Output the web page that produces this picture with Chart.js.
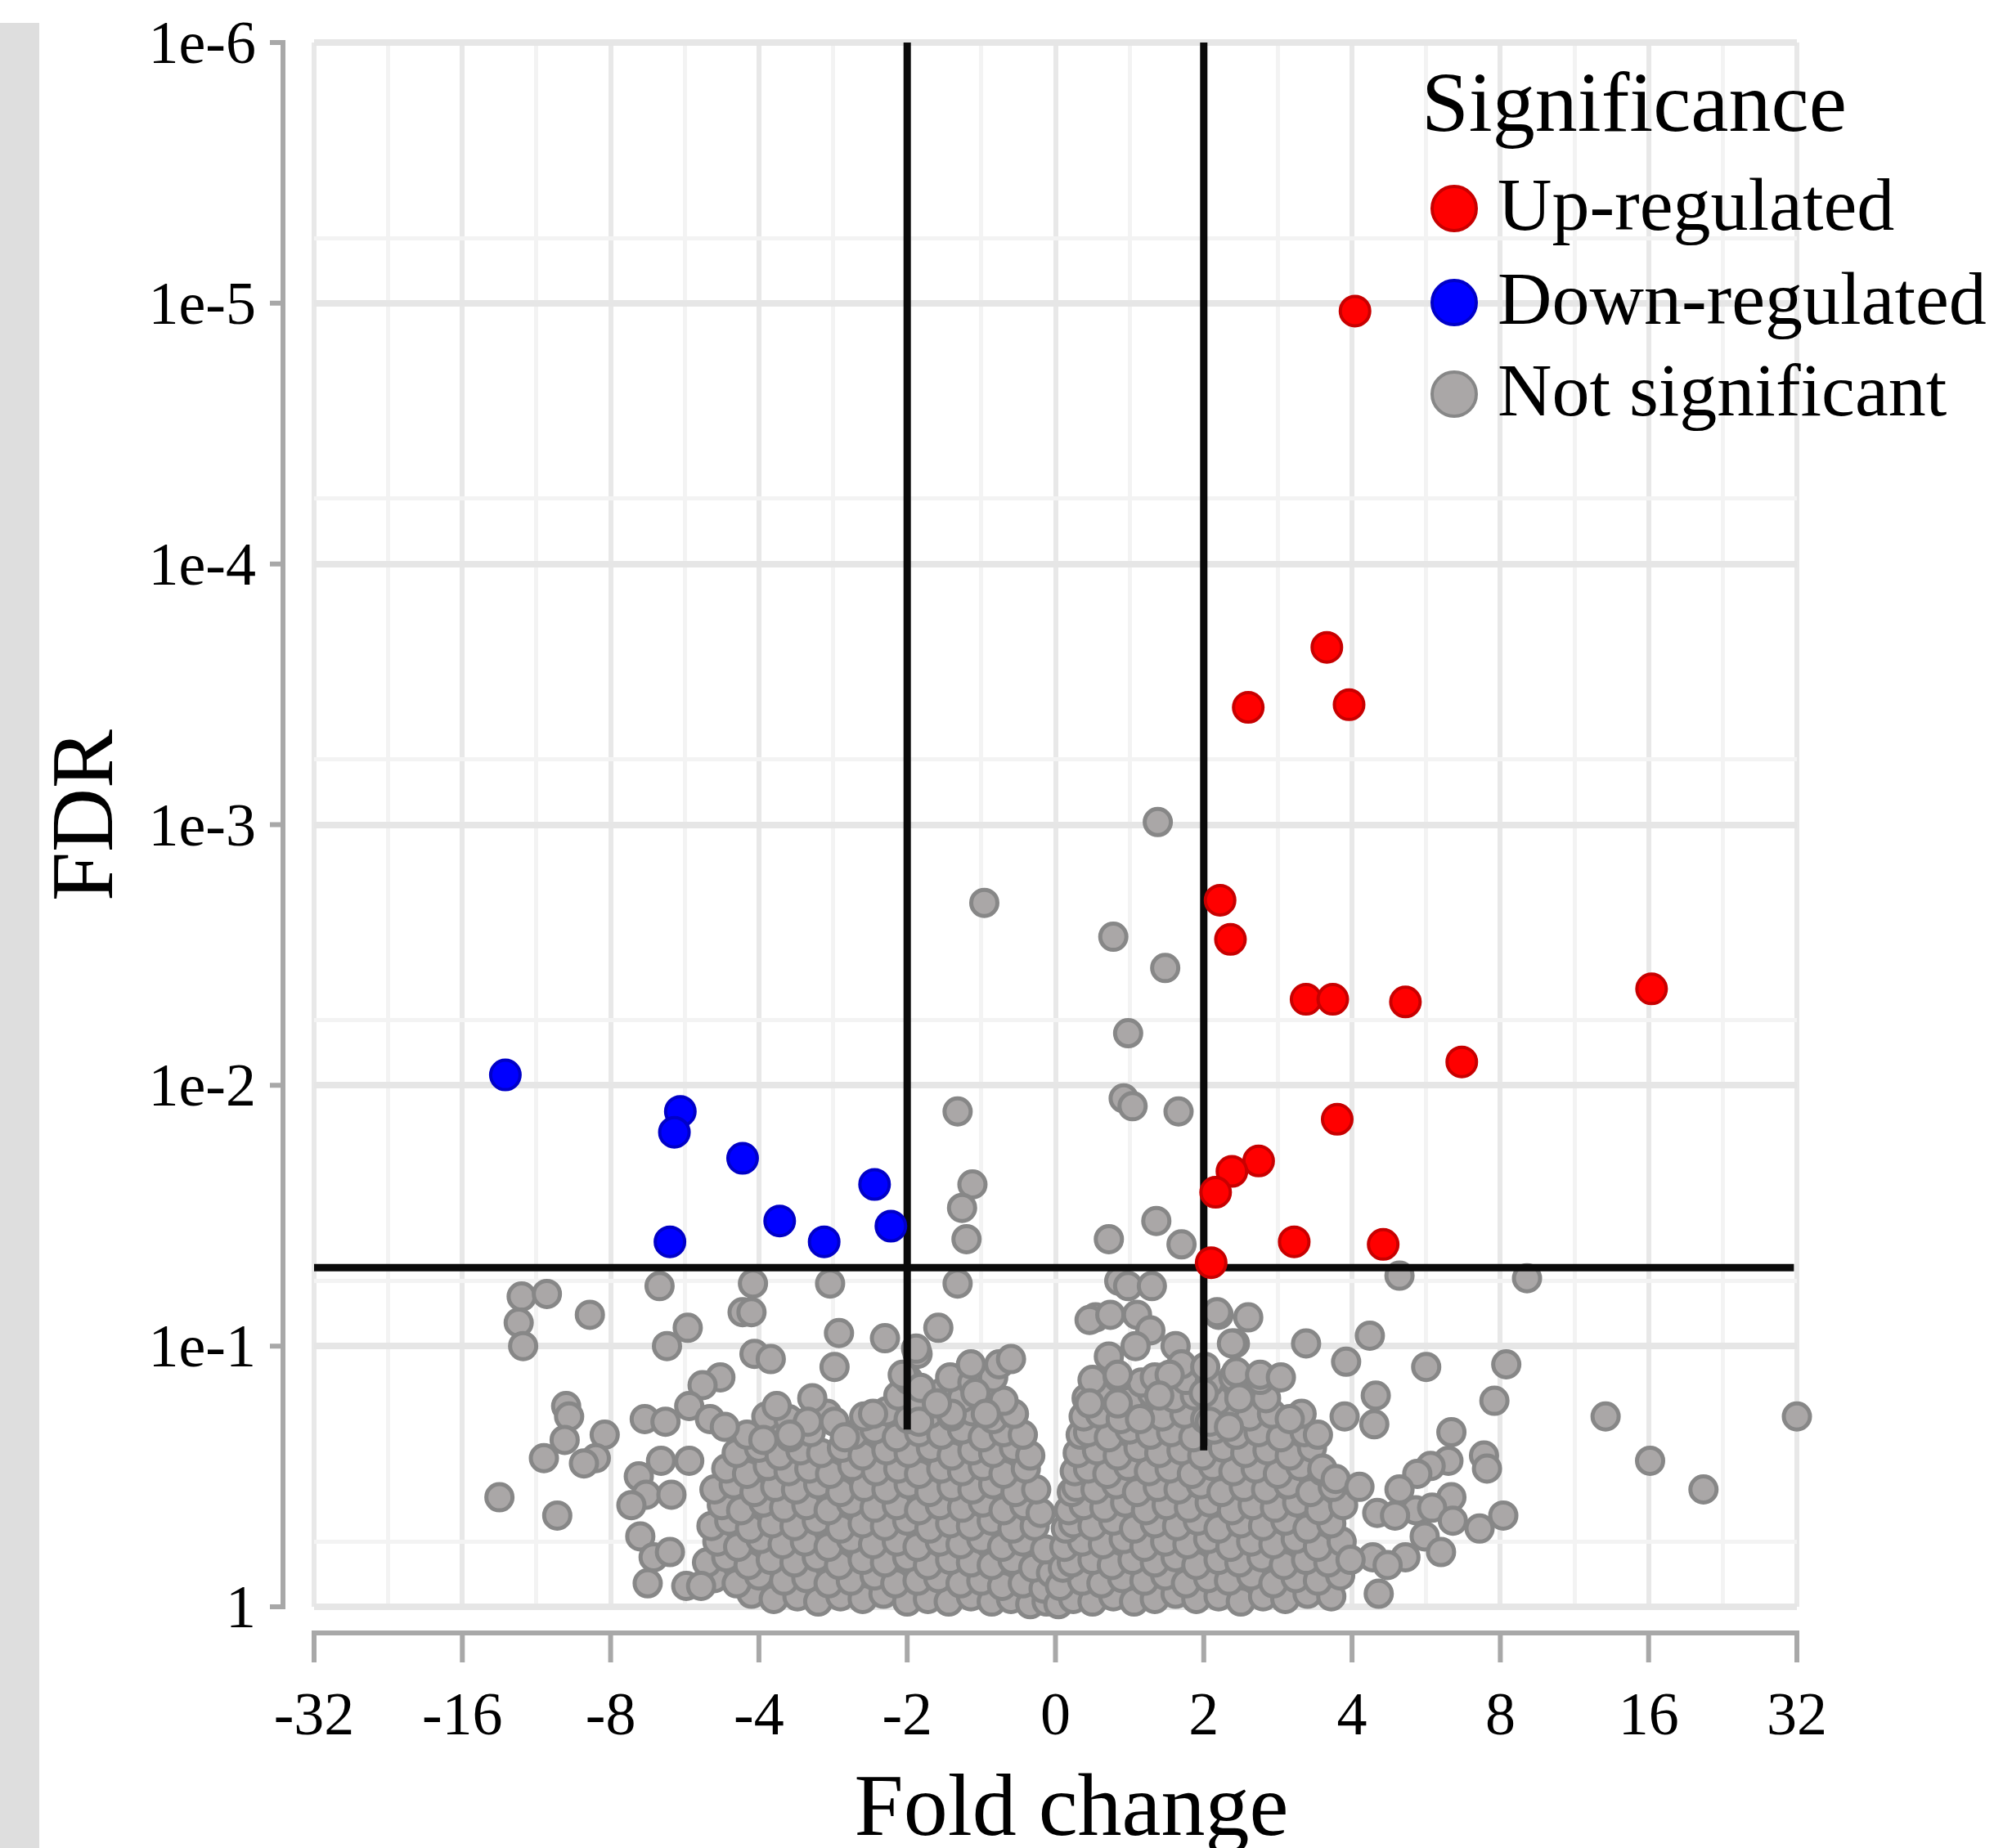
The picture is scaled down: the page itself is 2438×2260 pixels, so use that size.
<!DOCTYPE html>
<html>
<head>
<meta charset="utf-8">
<title>Volcano plot</title>
<script src="https://cdn.jsdelivr.net/npm/chart.js@4.4.1/dist/chart.umd.min.js"></script>
<style>
    html, body { margin: 0; padding: 0; background: #ffffff; }
    canvas { display: block; }
</style>
</head>
<body>
<canvas id="volcano_Chart" width="2438" height="2260"></canvas>
<script>
// x = log2(fold change), y = -log10(FDR)
var xTickValues = [-5, -4, -3, -2, -1, 0, 1, 2, 3, 4, 5];
var xTickLabels = ["-32", "-16", "-8", "-4", "-2", "0", "2", "4", "8", "16", "32"];
var xGridValues = [-5, -4.5, -4, -3.5, -3, -2.5, -2, -1.5, -1, -0.5, 0, 0.5, 1, 1.5, 2, 2.5, 3, 3.5, 4, 4.5, 5];

var yTickValues = [0, 1, 2, 3, 4, 5, 6];
var yTickLabels = ["1", "1e-1", "1e-2", "1e-3", "1e-4", "1e-5", "1e-6"];
var yGridValues = [0, 0.25, 1, 1.25, 2, 2.25, 3, 3.25, 4, 4.25, 5, 5.25, 6];

var foldThreshold = [-1, 1];
var foldLineBottom = [0.68, 0.6];
var fdrThreshold = 1.301;   // FDR = 0.05

var legendTitle = "Significance";

var upRegulated = [
    [2.02, 4.97], [1.83, 3.68], [1.98, 3.46], [1.30, 3.45], [1.11, 2.71], [1.18, 2.56],
    [1.69, 2.33], [1.87, 2.33], [2.36, 2.32], [4.02, 2.37], [2.74, 2.09], [1.90, 1.87],
    [1.37, 1.71], [1.19, 1.67], [1.08, 1.59], [1.61, 1.40], [2.21, 1.39], [1.05, 1.32]
];

var downRegulated = [
    [-3.71, 2.04], [-2.53, 1.90], [-2.57, 1.82], [-2.11, 1.72], [-1.22, 1.62],
    [-1.86, 1.48], [-1.11, 1.46], [-2.60, 1.40], [-1.56, 1.40]
];

// not significant, above the FDR line
var notSigAbove = [
    [0.69, 3.01], [-0.48, 2.70], [0.39, 2.57], [0.74, 2.45], [0.49, 2.20], [0.46, 1.95],
    [0.52, 1.92], [0.83, 1.90], [-0.66, 1.90], [-0.56, 1.62], [-0.63, 1.53], [-0.60, 1.41],
    [0.68, 1.48], [0.36, 1.41], [0.85, 1.39]
];

// loose points below the FDR line
var notSigScatter = [
    [-3.60, 1.19], [-3.43, 1.20], [-3.14, 1.12], [-3.62, 1.09], [-3.59, 1.00], [-2.67, 1.23],
    [-2.04, 1.24], [-2.11, 1.13], [-2.05, 1.13], [-1.52, 1.24], [-2.48, 1.07], [-2.62, 1.00],
    [-2.03, 0.97], [-1.92, 0.95], [-1.46, 1.05], [-1.15, 1.03], [-1.49, 0.92], [-0.93, 0.97],
    [-1.03, 0.89], [-2.26, 0.88], [-2.38, 0.85], [-2.47, 0.77], [-3.30, 0.77], [-3.28, 0.73],
    [-3.31, 0.64], [-3.45, 0.57], [-3.04, 0.66], [-3.10, 0.57], [-3.18, 0.55], [-3.75, 0.42],
    [-3.36, 0.35], [-2.77, 0.72], [-2.63, 0.71], [-2.33, 0.72], [-2.23, 0.69], [-1.88, 0.77],
    [-1.67, 0.71], [-1.49, 0.71], [-1.23, 0.74], [-1.42, 0.65], [-1.79, 0.66], [-1.97, 0.64],
    [-2.66, 0.56], [-2.47, 0.56], [-2.81, 0.50], [-2.76, 0.43], [-2.86, 0.39], [-2.59, 0.43],
    [-2.80, 0.27], [-2.71, 0.19], [-2.60, 0.21], [-2.75, 0.09], [-2.49, 0.08], [-2.39, 0.08],
    [-0.66, 1.24], [-0.79, 1.07], [-0.94, 0.99], [-0.57, 0.93], [-0.38, 0.93], [-0.30, 0.95],
    [-0.91, 0.84], [-0.92, 0.71], [-0.54, 0.82], [-0.70, 0.74], [-0.47, 0.74], [-0.80, 0.78],
    [0.43, 1.25], [0.49, 1.23], [0.65, 1.23], [0.27, 1.11], [0.23, 1.10], [0.37, 1.12],
    [0.55, 1.12], [0.64, 1.06], [0.54, 1.00], [0.36, 0.96], [0.42, 0.89], [0.81, 1.00],
    [0.85, 0.93], [0.67, 0.88], [0.77, 0.89], [1.10, 1.12], [1.30, 1.11], [1.21, 1.01],
    [1.01, 0.92], [1.22, 0.90], [1.38, 0.89], [1.52, 0.88], [1.24, 0.80], [1.69, 1.01],
    [1.96, 0.94], [1.00, 0.82], [1.04, 0.71], [1.17, 0.69], [1.66, 0.74], [1.58, 0.72],
    [1.77, 0.66], [1.95, 0.73], [1.80, 0.53], [1.89, 0.49], [0.23, 0.78], [0.42, 0.78],
    [0.57, 0.72], [0.70, 0.81], [1.19, 1.01], [1.09, 1.13],
    [2.32, 1.27], [3.18, 1.26], [2.12, 1.04], [2.50, 0.92], [3.04, 0.93], [2.16, 0.81],
    [2.96, 0.79], [3.71, 0.73], [5.00, 0.73], [2.15, 0.70], [2.67, 0.67], [2.89, 0.58],
    [2.91, 0.53], [2.65, 0.56], [2.53, 0.54], [2.44, 0.51], [4.01, 0.56], [4.37, 0.45],
    [2.32, 0.45], [2.05, 0.46], [2.67, 0.42], [2.43, 0.37], [2.54, 0.38], [2.17, 0.36],
    [2.29, 0.35], [2.68, 0.33], [3.02, 0.35], [2.86, 0.30], [2.49, 0.27], [2.60, 0.21],
    [2.36, 0.19], [2.14, 0.19], [1.99, 0.18], [2.24, 0.16], [2.18, 0.05]
];

// dense cloud, down side
var notSigCloudLeft = [
    [-2.05, 0.05], [-1.9, 0.03], [-1.74, 0.04], [-1.6, 0.02], [-1.45, 0.04], [-1.3, 0.03], [-1.16, 0.05], [-1.0, 0.02],
    [-0.86, 0.03], [-0.72, 0.02], [-0.57, 0.04], [-0.43, 0.02], [-0.3, 0.03], [-0.17, 0.01], [-0.06, 0.02],
    [-2.3, 0.11], [-2.15, 0.09], [-2.0, 0.12], [-1.83, 0.1], [-1.68, 0.11], [-1.53, 0.09], [-1.38, 0.1], [-1.22, 0.12],
    [-1.08, 0.09], [-0.93, 0.1], [-0.79, 0.11], [-0.64, 0.09], [-0.5, 0.1], [-0.36, 0.08], [-0.22, 0.09], [-0.08, 0.07],
    [-2.35, 0.17], [-2.22, 0.19], [-2.07, 0.16], [-1.92, 0.18], [-1.76, 0.17], [-1.61, 0.19], [-1.46, 0.16], [-1.3, 0.18],
    [-1.15, 0.17], [-1.0, 0.19], [-0.86, 0.16], [-0.71, 0.18], [-0.57, 0.17], [-0.43, 0.16], [-0.29, 0.18], [-0.15, 0.15], [-0.03, 0.13],
    [-2.28, 0.25], [-2.14, 0.23], [-1.99, 0.26], [-1.84, 0.24], [-1.69, 0.25], [-1.53, 0.23], [-1.38, 0.26], [-1.23, 0.24],
    [-1.07, 0.25], [-0.93, 0.23], [-0.78, 0.25], [-0.64, 0.24], [-0.5, 0.26], [-0.36, 0.23], [-0.22, 0.25], [-0.07, 0.22],
    [-2.32, 0.31], [-2.2, 0.33], [-2.06, 0.3], [-1.91, 0.32], [-1.76, 0.31], [-1.61, 0.33], [-1.45, 0.3], [-1.3, 0.32],
    [-1.15, 0.31], [-1.0, 0.33], [-0.85, 0.3], [-0.71, 0.32], [-0.57, 0.31], [-0.43, 0.33], [-0.29, 0.3], [-0.14, 0.31],
    [-2.25, 0.39], [-2.12, 0.37], [-1.97, 0.4], [-1.83, 0.38], [-1.68, 0.39], [-1.53, 0.37], [-1.38, 0.4], [-1.22, 0.38],
    [-1.07, 0.39], [-0.92, 0.37], [-0.78, 0.39], [-0.63, 0.38], [-0.49, 0.4], [-0.35, 0.37], [-0.21, 0.39], [-0.1, 0.36],
    [-2.3, 0.45], [-2.17, 0.47], [-2.03, 0.44], [-1.89, 0.46], [-1.75, 0.45], [-1.6, 0.47], [-1.45, 0.44], [-1.29, 0.46],
    [-1.14, 0.45], [-0.99, 0.47], [-0.85, 0.44], [-0.7, 0.46], [-0.56, 0.45], [-0.42, 0.47], [-0.27, 0.44], [-0.13, 0.45],
    [-2.22, 0.53], [-2.08, 0.51], [-1.94, 0.54], [-1.8, 0.52], [-1.66, 0.53], [-1.52, 0.51], [-1.37, 0.54], [-1.21, 0.52],
    [-1.06, 0.53], [-0.92, 0.51], [-0.77, 0.53], [-0.63, 0.52], [-0.49, 0.54], [-0.35, 0.51], [-0.2, 0.53],
    [-2.15, 0.59], [-2.0, 0.61], [-1.86, 0.58], [-1.72, 0.6], [-1.58, 0.59], [-1.44, 0.61], [-1.3, 0.58], [-1.14, 0.6],
    [-0.99, 0.59], [-0.84, 0.61], [-0.7, 0.58], [-0.56, 0.6], [-0.42, 0.59], [-0.28, 0.61], [-0.17, 0.58],
    [-2.08, 0.66], [-1.93, 0.67], [-1.79, 0.65], [-1.65, 0.67], [-1.36, 0.66], [-1.22, 0.68], [-1.07, 0.65],
    [-0.92, 0.67], [-0.77, 0.66], [-0.63, 0.68], [-0.49, 0.65], [-0.35, 0.67], [-0.22, 0.66],
    [-1.95, 0.73], [-1.8, 0.72], [-1.54, 0.74], [-1.29, 0.73], [-1.14, 0.75], [-0.99, 0.72], [-0.85, 0.74],
    [-0.7, 0.73], [-0.56, 0.75], [-0.42, 0.72], [-0.28, 0.74],
    [-1.64, 0.8], [-1.06, 0.81], [-0.92, 0.79], [-0.77, 0.82], [-0.63, 0.8], [-0.49, 0.81], [-0.35, 0.79],
    [-0.99, 0.87], [-0.71, 0.88], [-0.56, 0.86], [-0.42, 0.88]
];

// dense cloud, up side
var notSigCloudRight = [
    [0.02, 0.01], [0.12, 0.03], [0.25, 0.02], [0.39, 0.04], [0.53, 0.02], [0.67, 0.03], [0.81, 0.05],
    [0.95, 0.03], [1.1, 0.04], [1.25, 0.02], [1.4, 0.04], [1.55, 0.03], [1.7, 0.05], [1.86, 0.04],
    [0.03, 0.08], [0.18, 0.1], [0.31, 0.09], [0.45, 0.11], [0.6, 0.1], [0.74, 0.12], [0.88, 0.09],
    [1.03, 0.11], [1.17, 0.1], [1.32, 0.12], [1.47, 0.09], [1.62, 0.11], [1.77, 0.1], [1.92, 0.12],
    [0.05, 0.15], [0.11, 0.17], [0.25, 0.18], [0.38, 0.16], [0.52, 0.18], [0.67, 0.17], [0.81, 0.19],
    [0.95, 0.16], [1.1, 0.18], [1.24, 0.17], [1.39, 0.19], [1.54, 0.16], [1.69, 0.18], [1.84, 0.17],
    [0.06, 0.23], [0.18, 0.25], [0.32, 0.24], [0.46, 0.26], [0.6, 0.23], [0.74, 0.25], [0.89, 0.24],
    [1.03, 0.26], [1.18, 0.23], [1.32, 0.25], [1.47, 0.24], [1.62, 0.26], [1.77, 0.23], [1.93, 0.25],
    [0.07, 0.3], [0.12, 0.32], [0.25, 0.31], [0.39, 0.33], [0.53, 0.3], [0.67, 0.32], [0.82, 0.31],
    [0.96, 0.33], [1.1, 0.3], [1.25, 0.32], [1.4, 0.31], [1.55, 0.33], [1.7, 0.3], [1.86, 0.32],
    [0.09, 0.37], [0.19, 0.39], [0.33, 0.38], [0.47, 0.4], [0.61, 0.37], [0.75, 0.39], [0.9, 0.38],
    [1.04, 0.4], [1.19, 0.37], [1.33, 0.39], [1.48, 0.38], [1.63, 0.4], [1.78, 0.37], [1.94, 0.39],
    [0.11, 0.44], [0.14, 0.46], [0.27, 0.45], [0.41, 0.47], [0.55, 0.44], [0.69, 0.46], [0.83, 0.45],
    [0.98, 0.47], [1.12, 0.44], [1.27, 0.46], [1.42, 0.45], [1.57, 0.47], [1.72, 0.44], [1.87, 0.46],
    [0.13, 0.52], [0.22, 0.53], [0.35, 0.51], [0.49, 0.54], [0.63, 0.52], [0.77, 0.53], [0.92, 0.51],
    [1.06, 0.54], [1.2, 0.52], [1.35, 0.53], [1.5, 0.51], [1.65, 0.54], [1.8, 0.52],
    [0.15, 0.59], [0.28, 0.6], [0.42, 0.58], [0.56, 0.61], [0.7, 0.59], [0.85, 0.6], [0.99, 0.58],
    [1.13, 0.61], [1.28, 0.59], [1.43, 0.6], [1.58, 0.58], [1.73, 0.61],
    [0.17, 0.66], [0.22, 0.67], [0.36, 0.65], [0.5, 0.68], [0.64, 0.66], [0.78, 0.67], [0.93, 0.65],
    [1.07, 0.68], [1.22, 0.66], [1.37, 0.67], [1.52, 0.65], [1.68, 0.67],
    [0.19, 0.73], [0.3, 0.74], [0.44, 0.72], [0.58, 0.75], [0.72, 0.73], [0.87, 0.74], [1.01, 0.72],
    [1.16, 0.75], [1.31, 0.73], [1.46, 0.74],
    [0.21, 0.8], [0.36, 0.81], [0.5, 0.79], [0.65, 0.82], [0.8, 0.8], [0.94, 0.81], [1.09, 0.79],
    [1.24, 0.82], [1.42, 0.8],
    [0.25, 0.87], [0.42, 0.88], [0.58, 0.86], [0.73, 0.88], [0.88, 0.87], [1.04, 0.86], [1.2, 0.88], [1.38, 0.87]
];

var fontFamily = '"Liberation Serif", "Times New Roman", Times, serif';

function toPoints(list) {
    return list.map(function (p) { return { x: p[0], y: p[1] }; });
}

var notSignificant = [].concat(notSigCloudLeft, notSigCloudRight, notSigScatter, notSigAbove);

//gray page strip on the left + white canvas
var pageBackground = {
    id: 'pageBackground',
    beforeDraw: function (chart) {
        var ctx = chart.ctx;
        ctx.save();
        ctx.fillStyle = '#ffffff';
        ctx.fillRect(0, 0, chart.width, chart.height);
        ctx.fillStyle = '#dedede';
        ctx.fillRect(0, 28, 48, chart.height - 28);
        ctx.restore();
    }
};

//cut-off lines, drawn over the gray points but under red / blue
var thresholdLines = {
    id: 'thresholdLines',
    afterDatasetDraw: function (chart, args) {
        if (chart.data.datasets[args.index].label !== 'Not significant') {
            return;
        }
        var xs = chart.scales.x;
        var ys = chart.scales.y;
        var ctx = chart.ctx;
        ctx.save();
        ctx.strokeStyle = '#0a0a0a';
        ctx.lineWidth = 9;
        ctx.beginPath();
        ctx.moveTo(xs.getPixelForValue(-5), ys.getPixelForValue(fdrThreshold));
        ctx.lineTo(xs.getPixelForValue(4.98), ys.getPixelForValue(fdrThreshold));
        for (var i = 0; i < foldThreshold.length; i++) {
            var px = xs.getPixelForValue(foldThreshold[i]);
            ctx.moveTo(px, ys.getPixelForValue(6));
            ctx.lineTo(px, ys.getPixelForValue(foldLineBottom[i]));
        }
        ctx.stroke();
        ctx.restore();
    }
};

//axes sit away from the plot, like the original
var offsetAxes = {
    id: 'offsetAxes',
    afterDraw: function (chart) {
        var xs = chart.scales.x;
        var ys = chart.scales.y;
        var ctx = chart.ctx;
        var yAxisX = 346;
        var xAxisY = 1997;

        ctx.save();
        ctx.strokeStyle = '#a8a8a8';
        ctx.lineWidth = 6;
        ctx.beginPath();
        ctx.moveTo(yAxisX, ys.getPixelForValue(6) - 3);
        ctx.lineTo(yAxisX, ys.getPixelForValue(0) + 3);
        yTickValues.forEach(function (v) {
            var py = ys.getPixelForValue(v);
            ctx.moveTo(yAxisX + 3, py);
            ctx.lineTo(330, py);
        });
        ctx.moveTo(xs.getPixelForValue(-5) - 3, xAxisY);
        ctx.lineTo(xs.getPixelForValue(5) + 3, xAxisY);
        xTickValues.forEach(function (v) {
            var px = xs.getPixelForValue(v);
            ctx.moveTo(px, xAxisY - 3);
            ctx.lineTo(px, 2033);
        });
        ctx.stroke();

        ctx.fillStyle = '#000000';
        ctx.font = '74px ' + fontFamily;
        ctx.textAlign = 'right';
        ctx.textBaseline = 'alphabetic';
        yTickValues.forEach(function (v, i) {
            ctx.fillText(yTickLabels[i], 313, ys.getPixelForValue(v) + 25);
        });
        ctx.textAlign = 'center';
        xTickValues.forEach(function (v, i) {
            ctx.fillText(xTickLabels[i], xs.getPixelForValue(v), 2121);
        });

        ctx.font = '108px ' + fontFamily;
        ctx.fillText('Fold change', 1310, 2244);

        ctx.translate(137, 997);
        ctx.rotate(-Math.PI / 2);
        ctx.fillText('FDR', 0, 0);
        ctx.restore();
    }
};

var significanceLegend = {
    id: 'significanceLegend',
    afterDraw: function (chart) {
        var ctx = chart.ctx;
        var rowY = [255, 370, 482];
        ctx.save();
        ctx.fillStyle = '#000000';
        ctx.textAlign = 'left';
        ctx.textBaseline = 'alphabetic';
        ctx.font = '104px ' + fontFamily;
        ctx.fillText(legendTitle, 1738, 160);
        ctx.font = '92px ' + fontFamily;
        chart.data.datasets.forEach(function (ds, i) {
            ctx.beginPath();
            ctx.arc(1778, rowY[i], 27, 0, Math.PI * 2);
            ctx.fillStyle = ds.backgroundColor;
            ctx.fill();
            ctx.lineWidth = 4;
            ctx.strokeStyle = ds.borderColor;
            ctx.stroke();
            ctx.fillStyle = '#000000';
            ctx.fillText(ds.label, 1831, rowY[i] + 26);
        });
        ctx.restore();
    }
};

function gridColor(major, minor) {
    return function (c) {
        return (c.tick && Number.isInteger(c.tick.value)) ? major : minor;
    };
}

function gridWidth(major, minor) {
    return function (c) {
        return (c.tick && Number.isInteger(c.tick.value)) ? major : minor;
    };
}

var canvasV = document.getElementById("volcano_Chart");
var ctxV = canvasV.getContext('2d');

var volcano_Chart = new Chart(ctxV, {
    type: 'scatter',
    data: {
        datasets: [{
            label: 'Up-regulated',
            data: toPoints(upRegulated),
            backgroundColor: '#ff0000',
            borderColor: '#c80000',
            borderWidth: 4,
            pointRadius: 18,
            clip: false
        }, {
            label: 'Down-regulated',
            data: toPoints(downRegulated),
            backgroundColor: '#0000ff',
            borderColor: '#0000c8',
            borderWidth: 4,
            pointRadius: 18,
            clip: false
        }, {
            label: 'Not significant',
            data: toPoints(notSignificant),
            backgroundColor: '#aaa7a7',
            borderColor: '#878787',
            borderWidth: 5,
            pointRadius: 16,
            clip: false
        }]
    },
    options: {
        responsive: false,
        devicePixelRatio: 1,
        animation: false,
        events: [],
        layout: {
            autoPadding: false,
            padding: { left: 384, right: 241, top: 52, bottom: 295 }
        },
        plugins: {
            legend: { display: false },
            tooltip: { enabled: false }
        },
        scales: {
            x: {
                type: 'linear',
                min: -5,
                max: 5,
                afterBuildTicks: function (scale) {
                    scale.ticks = xGridValues.map(function (v) { return { value: v }; });
                },
                afterFit: function (scale) { scale.height = 0; },
                ticks: { display: false },
                border: { display: false },
                grid: {
                    drawTicks: false,
                    color: gridColor('#e8e8e8', '#f3f3f3'),
                    lineWidth: gridWidth(6, 5)
                }
            },
            y: {
                type: 'linear',
                min: 0,
                max: 6,
                afterBuildTicks: function (scale) {
                    scale.ticks = yGridValues.map(function (v) { return { value: v }; });
                },
                afterFit: function (scale) { scale.width = 0; },
                ticks: { display: false },
                border: { display: false },
                grid: {
                    drawTicks: false,
                    color: gridColor('#e6e6e6', '#f3f3f3'),
                    lineWidth: gridWidth(8, 5)
                }
            }
        }
    },
    plugins: [pageBackground, thresholdLines, offsetAxes, significanceLegend]
});
</script>
</body>
</html>
